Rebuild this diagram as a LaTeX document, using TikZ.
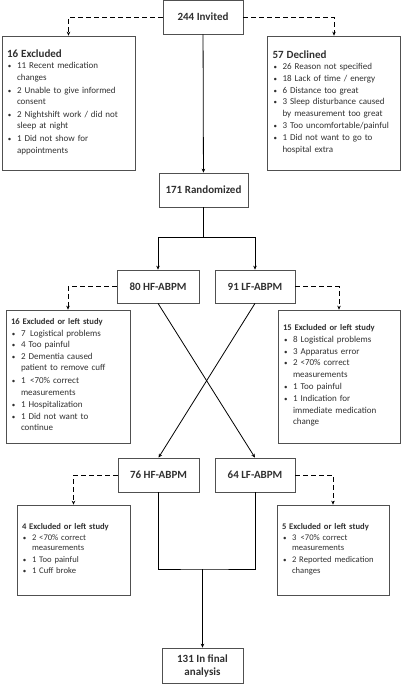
\documentclass[tikz,border=0pt]{standalone}
\usepackage{fontspec}
\setmainfont{Carlito}
\usetikzlibrary{arrows.meta}
\definecolor{boxgray}{HTML}{505050}
\definecolor{txtgray}{HTML}{303030}
\newcommand{\hdbig}{\bfseries\fontsize{11}{13}\selectfont}
\newcommand{\hdsmall}{\bfseries\fontsize{8.6}{11}\selectfont}
\newcommand{\itm}[1]{\par\noindent\makebox[10pt][l]{\hspace{1pt}\scriptsize\textbullet}\begin{tabular}[t]{@{}l@{}}#1\end{tabular}}
\tikzset{
  flowbox/.style={draw=boxgray, line width=0.7pt, text=txtgray, align=center, inner sep=5pt},
  listbox/.style={draw=boxgray, line width=0.7pt, text=txtgray, align=left, inner sep=5pt,
    font=\fontsize{9}{11.6}\selectfont},
  flow/.style={line width=0.8pt, -{Stealth[length=4pt,width=3.5pt]}},
  dropout/.style={flow, dash pattern=on 5pt off 3pt}
}
\begin{document}
\begin{tikzpicture}[x=1pt,y=-1pt]
		\useasboundingbox (0,0) rectangle (401,685);
		
		% Define invited and first drop outs
		\node[flowbox, minimum width=80pt, minimum height=34pt, font=\hdbig] (Invited) at (203,17) {244 Invited};
		\node[listbox, text width=123pt, minimum height=134pt] (Excluded) at (68.5,103) {{\hdbig 16 Excluded\par}\itm{11 Recent medication\\changes}\itm{2 Unable to give informed\\consent}\itm{2 Nightshift work / did not\\sleep at night}\itm{1 Did not show for\\appointments}};
		\node[listbox, text width=123pt, minimum height=134pt] (Declined) at (334,103) {{\hdbig 57 Declined\par}\itm{26 Reason not specified}\itm{18 Lack of time / energy}\itm{6 Distance too great}\itm{3 Sleep disturbance caused\\by measurement too great}\itm{3 Too uncomfortable/painful}\itm{1 Did not want to go to\\hospital extra}};
		
		\draw[dropout] (Invited) -| (Excluded);
		\draw[dropout] (Invited) -| (Declined);
		
		% Define randomized
		\node[flowbox, minimum width=89pt, minimum height=34pt, font=\hdbig] (Randomized) at (203.5,190) {171 Randomized};
		\draw[flow] (Invited) -- (Randomized);
		
		% Define first period
		\node[flowbox, minimum width=82pt, minimum height=33pt, font=\hdbig] (HFfirst) at (158,286.5) {80 HF-ABPM};
		\node[flowbox, minimum width=80pt, minimum height=33pt, font=\hdbig] (LFfirst) at (255,286.5) {91 LF-ABPM};
		\coordinate (Split) at (203.5,237);
		
		\draw[line width=0.8pt] (Randomized) -- (Split);
		\draw[flow] (Split) -| (HFfirst);
		\draw[flow] (Split) -| (LFfirst);
		
		\node[listbox, text width=114pt, minimum height=133pt] (ExclHFfirst) at (68,376.5) {{\hdsmall 16 Excluded or left study\par}\itm{7\, Logistical problems}\itm{4 Too painful}\itm{2 Dementia caused\\patient to remove cuff}\itm{1\, <70\% correct\\measurements}\itm{1 Hospitalization}\itm{1 Did not want to\\continue}};
		\node[listbox, text width=112pt, minimum height=133pt] (ExclLFfirst) at (339,376.5) {{\hdsmall 15 Excluded or left study\par}\itm{8 Logistical problems}\itm{3 Apparatus error}\itm{2 <70\% correct\\measurements}\itm{1 Too painful}\itm{1 Indication for\\immediate medication\\change}};
		
		\draw[dropout] (HFfirst) -| (ExclHFfirst);
		\draw[dropout] (LFfirst) -| (ExclLFfirst);
		
		% Define second period (cross-over)
		\node[flowbox, minimum width=81pt, minimum height=34pt, font=\hdbig] (HFsecond) at (158.5,475) {76 HF-ABPM};
		\node[flowbox, minimum width=80pt, minimum height=34pt, font=\hdbig] (LFsecond) at (255,475) {64 LF-ABPM};
		
		\draw[flow] (HFfirst.south) -- (LFsecond.north);
		\draw[flow] (LFfirst.south) -- (HFsecond.north);
		
		\node[listbox, text width=103pt, minimum height=90pt, font=\fontsize{8.6}{10.8}\selectfont] (ExclHFsecond) at (73.5,550) {{\hdsmall 4 Excluded or left study\par}\itm{2 <70\% correct\\measurements}\itm{1 Too painful}\itm{1 Cuff broke}};
		\node[listbox, text width=102pt, minimum height=90pt, font=\fontsize{8.6}{10.8}\selectfont] (ExclLFsecond) at (333,550) {{\hdsmall 5 Excluded or left study\par}\itm{3\, <70\% correct\\measurements}\itm{2 Reported medication\\changes}};
		
		\draw[dropout] (HFsecond) -| (ExclHFsecond);
		\draw[dropout] (LFsecond) -| (ExclLFsecond);
		
		% Define final analysis
		\node[flowbox, minimum width=81pt, minimum height=35pt, font=\hdbig] (Final) at (202.5,665.5) {131 In final\\analysis};
		\coordinate (Merge) at (202.5,569);
		
		\draw[line width=0.8pt] (HFsecond.south) |- (Merge) -| (LFsecond.south);
		\draw[flow] (Merge) -- (Final);
	\end{tikzpicture}
\end{document}
